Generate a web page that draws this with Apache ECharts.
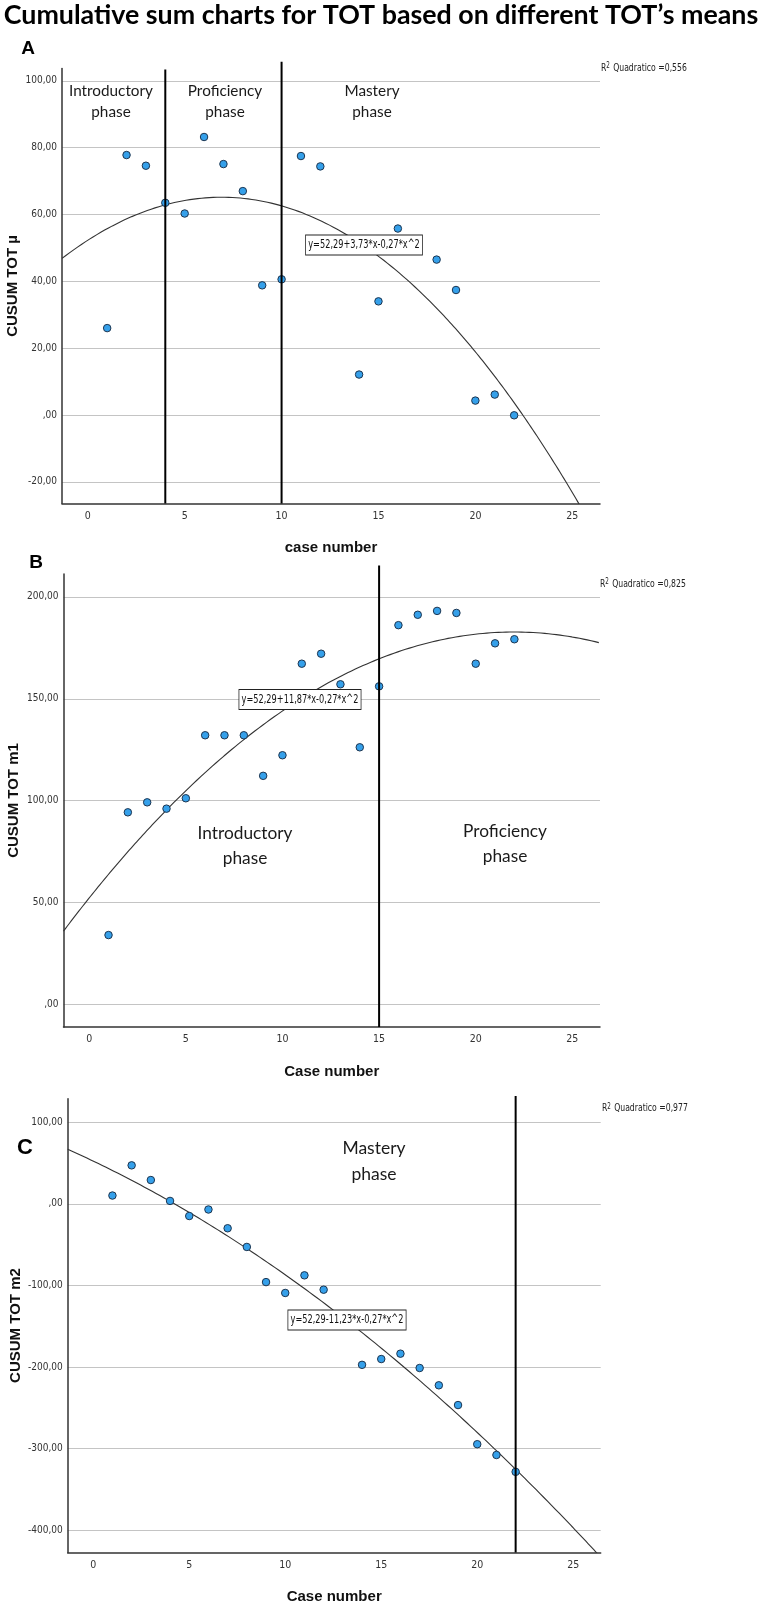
<!DOCTYPE html>
<html>
<head>
<meta charset="utf-8">
<script src="https://cdn.jsdelivr.net/npm/echarts@6/dist/echarts.min.js"></script>
<style>
  html, body { margin: 0; padding: 0; background: #fff; }
  #chart { width: 764px; height: 1605px; }
</style>
</head>
<body>
<div id="chart"></div>
<script>
// case numbers and cusum values
const caseA = [1, 2, 3, 4, 5, 6, 7, 8, 9, 10, 11, 12, 14, 15, 16, 18, 19, 20, 21, 22];
const cusumA = [26.0, 77.8, 74.6, 63.5, 60.3, 83.2, 75.1, 67.0, 38.8, 40.6, 77.5, 74.4, 12.1, 34.0, 55.8, 46.5, 37.4, 4.3, 6.1, -0.1];

const caseB = [1, 2, 3, 4, 5, 6, 7, 8, 9, 10, 11, 12, 13, 14, 15, 16, 17, 18, 19, 20, 21, 22];
const cusumB = [34.1, 94.3, 99.2, 96.1, 101.2, 132.1, 132.1, 132.1, 112.2, 122.3, 167.2, 172.1, 157.1, 126.2, 156.1, 186.1, 191.2, 193.1, 192.1, 167.2, 177.2, 179.2];

const caseC = [1, 2, 3, 4, 5, 6, 7, 8, 9, 10, 11, 12, 14, 15, 16, 17, 18, 19, 20, 21, 22];
const cusumC = [10.1, 47.1, 29.1, 3.5, -15.0, -7.0, -30.0, -52.9, -96.0, -109.3, -87.7, -105.3, -197.4, -190.3, -183.7, -201.3, -222.5, -246.7, -294.7, -307.9, -328.6];

// quadratic fits as printed on the chart: b0, b1, b2
const fitA = [52.29, 3.73, -0.27];
const fitB = [52.29, 11.87, -0.27];
const fitC = [52.29, -11.23, -0.27];

// phase boundaries (case number)
const phaseA = [4, 10];
const phaseB = [15];
const phaseC = [22];

// tick labels
const xTicks = [0, 5, 10, 15, 20, 25];
const yTicksA = [-20, 0, 20, 40, 60, 80, 100];
const yTicksB = [0, 50, 100, 150, 200];
const yTicksC = [-400, -300, -200, -100, 0, 100];

const r2A = '0,556', r2B = '0,825', r2C = '0,977';

// ---- layout ----
const X_MIN = -1.33, X_MAX = 26.43;
const panels = [
  { grid: { left: 62, top: 68.5, width: 538, height: 435 }, yMin: -26.5, yMax: 103.7, lineTop: [103.4, 105.7],
    ticks: yTicksA, name: 'CUSUM TOT µ', xName: 'case number', nameGap: 41.5 },
  { grid: { left: 63.5, top: 574, width: 536.5, height: 453 }, yMin: -11, yMax: 211.2, lineTop: [215.4],
    ticks: yTicksB, name: 'CUSUM TOT m1', xName: 'Case number', nameGap: 42 },
  { grid: { left: 67.7, top: 1098.7, width: 533, height: 453.7 }, yMin: -427.3, yMax: 128.8, lineTop: [132.2],
    ticks: yTicksC, name: 'CUSUM TOT m2', xName: 'Case number', nameGap: 44 }
];

const numFmt = v => (v === 0 ? ',00' : v.toFixed(2).replace('.', ','));
const tickFont = "'Liberation Sans Narrow', 'DejaVu Sans Condensed', sans-serif";
const phaseFont = 'Lato, "Open Sans", sans-serif';

function fitCurve(c) {
  const pts = [];
  for (let x = X_MIN; x <= X_MAX + 0.001; x += 0.1) {
    pts.push([x, c[0] + c[1] * x + c[2] * x * x]);
  }
  return pts;
}

const chart = echarts.init(document.getElementById('chart'));

const grids = [], xAxes = [], yAxes = [], series = [];
const sets = [
  [caseA, cusumA, fitA, phaseA],
  [caseB, cusumB, fitB, phaseB],
  [caseC, cusumC, fitC, phaseC]
];

panels.forEach((p, i) => {
  grids.push(Object.assign({ containLabel: false, outerBoundsMode: 'none' }, p.grid));
  xAxes.push({
    gridIndex: i, type: 'value', min: X_MIN, max: X_MAX,
    name: p.xName, nameLocation: 'middle', nameGap: 37, nameMoveOverlap: false,
    nameTextStyle: { fontFamily: 'Liberation Sans, Arial, sans-serif', fontWeight: 'bold', fontSize: 15, color: '#111' },
    axisLine: { show: true, onZero: false, lineStyle: { color: '#333', width: 1.5 } },
    axisTick: { show: false, customValues: xTicks },
    axisLabel: { customValues: xTicks, margin: 7, fontSize: 10.5, color: '#333', fontFamily: tickFont },
    splitLine: { show: false }
  });
  yAxes.push({
    gridIndex: i, type: 'value', min: p.yMin, max: p.yMax,
    name: p.name, nameLocation: 'middle', nameGap: p.nameGap, nameMoveOverlap: false,
    nameTextStyle: { fontFamily: 'Liberation Sans, Arial, sans-serif', fontWeight: 'bold', fontSize: 15, color: '#111' },
    axisLine: { show: true, onZero: false, lineStyle: { color: '#333', width: 1.5 } },
    axisTick: { show: false, customValues: p.ticks },
    axisLabel: { customValues: p.ticks, formatter: numFmt, margin: 5, fontSize: 10, color: '#333', fontFamily: tickFont },
    splitLine: { show: true, lineStyle: { color: '#c4c4c4', width: 1.2 } }
  });

  const [xs, ys, fit, phases] = sets[i];
  series.push({
    type: 'line', xAxisIndex: i, yAxisIndex: i,
    data: fitCurve(fit), showSymbol: false, symbol: 'none',
    lineStyle: { color: '#333', width: 1.1 }, z: 2
  });
  series.push({
    type: 'scatter', xAxisIndex: i, yAxisIndex: i,
    data: xs.map((x, k) => [x, ys[k]]),
    symbolSize: 7.5,
    itemStyle: { color: '#35a0ea', borderColor: '#1d3550', borderWidth: 1, opacity: 1 },
    z: 3
  });
  phases.forEach((px, k) => {
    series.push({
      type: 'line', xAxisIndex: i, yAxisIndex: i, clip: false,
      data: [[px, p.yMin], [px, p.lineTop[k]]],
      symbol: 'none', lineStyle: { color: '#000', width: 2 }, z: 4
    });
  });
});

function phaseText(x, y, size, lh, txt) {
  return { type: 'text', x: x, y: y, z: 10,
    style: { text: txt, font: size + 'px ' + phaseFont, fill: '#1a1a1a', align: 'center', verticalAlign: 'middle', lineHeight: lh } };
}
function eqBox(x, y, txt) {
  return { type: 'text', x: x, y: y, z: 10, scaleX: 0.76,
    style: { text: txt, font: "12px " + tickFont, fill: '#111', align: 'center', verticalAlign: 'middle',
      backgroundColor: '#fff', borderColor: '#222', borderWidth: 1, padding: [4, 3, 3, 3] } };
}
function r2Text(x, y, val) {
  return { type: 'text', x: x, y: y, z: 10, scaleX: 0.78,
    style: { text: 'R{s|2} Quadratico =' + val, fontFamily: tickFont, fontSize: 11, fill: '#222',
      align: 'left', verticalAlign: 'middle',
      rich: { s: { fontFamily: tickFont, fontSize: 8, fill: '#222', verticalAlign: 'top', padding: [0, 1, 4, 0] } } } };
}
function letter(x, y, size, txt) {
  return { type: 'text', x: x, y: y, z: 10,
    style: { text: txt, font: 'bold ' + size + 'px Liberation Sans, Arial, sans-serif', fill: '#000', align: 'center', verticalAlign: 'middle' } };
}

const graphics = [
  { type: 'text', x: 381, y: 15, z: 10,
    style: { text: 'Cumulative sum charts for TOT based on different TOT\u2019s means',
      font: 'bold 26.8px Lato, "Open Sans", sans-serif', fill: '#000', align: 'center', verticalAlign: 'middle' } },
  letter(28, 49, 19, 'A'),
  letter(36, 563, 19, 'B'),
  letter(25, 1148, 22, 'C'),
  phaseText(111, 102, 15.3, 21, 'Introductory\nphase'),
  phaseText(225, 102, 15.3, 21, 'Proficiency\nphase'),
  phaseText(372, 102, 15.3, 21, 'Mastery\nphase'),
  phaseText(245, 846, 17.3, 25, 'Introductory\nphase'),
  phaseText(505, 844, 17.3, 25, 'Proficiency\nphase'),
  phaseText(374, 1161, 17.5, 26, 'Mastery\nphase'),
  eqBox(364, 245, 'y=52,29+3,73*x-0,27*x^2'),
  eqBox(300, 699.5, 'y=52,29+11,87*x-0,27*x^2'),
  eqBox(347, 1320, 'y=52,29-11,23*x-0,27*x^2'),
  r2Text(601, 68, r2A),
  r2Text(600, 584, r2B),
  r2Text(602, 1108.5, r2C)
];

chart.setOption({
  animation: false,
  backgroundColor: '#fff',
  grid: grids,
  xAxis: xAxes,
  yAxis: yAxes,
  series: series,
  graphic: graphics
});
</script>
</body>
</html>
